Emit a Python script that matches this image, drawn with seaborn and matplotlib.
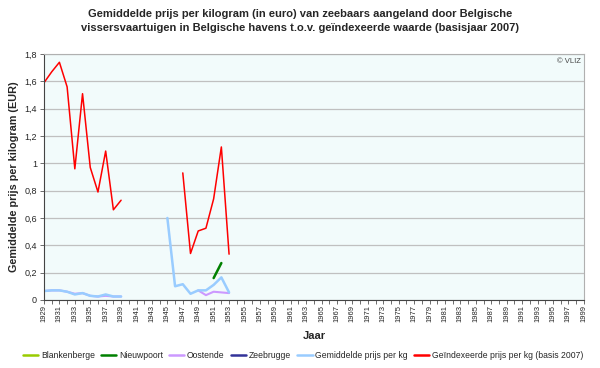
import numpy as np
import pandas as pd
import matplotlib
matplotlib.use("Agg")
import matplotlib.pyplot as plt
from matplotlib.lines import Line2D
from matplotlib.ticker import MultipleLocator, FuncFormatter
import seaborn as sns

# jaren 1929 - 1999
years = list(range(1929, 2000))

# gemiddelde prijs per kg (EUR)
gem_years = [1929, 1930, 1931, 1932, 1933, 1934, 1935, 1936, 1937, 1938, 1939,
             1945, 1946, 1947, 1948, 1949, 1950, 1951, 1952, 1953]
gem_vals = [0.065, 0.07, 0.07, 0.06, 0.04, 0.05, 0.03, 0.025, 0.04, 0.025, 0.025,
            0.60, 0.10, 0.115, 0.045, 0.07, 0.07, 0.11, 0.165, 0.055]

# geindexeerde prijs per kg (basis 2007)
idx_years = [1929, 1930, 1931, 1932, 1933, 1934, 1935, 1936, 1937, 1938, 1939,
             1947, 1948, 1949, 1950, 1951, 1952, 1953]
idx_vals = [1.59, 1.67, 1.74, 1.56, 0.96, 1.51, 0.97, 0.79, 1.09, 0.66, 0.73,
            0.93, 0.34, 0.505, 0.525, 0.74, 1.12, 0.335]

# Oostende
oos_years = [1929, 1930, 1931, 1932, 1933, 1934, 1935, 1936, 1937, 1938, 1939,
             1949, 1950, 1951, 1952, 1953]
oos_vals = [0.065, 0.07, 0.07, 0.06, 0.045, 0.05, 0.03, 0.025, 0.03, 0.025, 0.025,
            0.07, 0.035, 0.06, 0.055, 0.05]

# Nieuwpoort
nwp_years = [1951, 1952]
nwp_vals = [0.16, 0.27]

# Blankenberge / Zeebrugge: geen waarden
blk_years, blk_vals = [], []
zee_years, zee_vals = [], []

series = [
    ("Blankenberge", blk_years, blk_vals, "#99cc00", 1.5),
    ("Nieuwpoort", nwp_years, nwp_vals, "#008000", 1.8),
    ("Oostende", oos_years, oos_vals, "#cc99ff", 1.5),
    ("Zeebrugge", zee_years, zee_vals, "#333399", 1.5),
    ("Gemiddelde prijs per kg", gem_years, gem_vals, "#99ccff", 1.8),
    ("Geïndexeerde prijs per kg (basis 2007)", idx_years, idx_vals, "#ff0000", 1.1),
]

sns.set_style("white")
plt.rcParams["font.family"] = ["Liberation Sans", "DejaVu Sans"]

fig = plt.figure(figsize=(6, 3.68), dpi=100)
ax = fig.add_axes([0.0733, 0.185, 0.8997, 0.668])
ax.set_facecolor("#f2fbfb")


def segments(xs, ys):
    # split into runs of consecutive years so gaps stay open
    out, cur_x, cur_y = [], [], []
    for x, y in zip(xs, ys):
        if cur_x and x != cur_x[-1] + 1:
            out.append((cur_x, cur_y))
            cur_x, cur_y = [], []
        cur_x.append(x)
        cur_y.append(y)
    if cur_x:
        out.append((cur_x, cur_y))
    return out


handles = []
for name, xs, ys, col, lw in series:
    for sx, sy in segments(xs, ys):
        df = pd.DataFrame({"jaar": sx, "prijs": sy})
        sns.lineplot(data=df, x="jaar", y="prijs", ax=ax, color=col, lw=lw)
    handles.append(Line2D([], [], color=col, lw=1.8, label=name))

ax.set_xlim(1929, 1999)
ax.set_ylim(0, 1.8)
ax.yaxis.set_major_locator(MultipleLocator(0.2))
ax.yaxis.set_major_formatter(FuncFormatter(
    lambda v, p: "0" if abs(v) < 1e-9 else ("%g" % round(v, 1)).replace(".", ",")))
ax.set_xticks(years[::2])
ax.set_xticklabels([str(y) for y in years[::2]], rotation=90)
ax.set_xticks(years, minor=True)
ax.tick_params(axis="x", which="both", direction="out", length=3, width=0.6,
               color="#555555", labelsize=5.5, pad=1, bottom=True)
ax.tick_params(axis="y", direction="out", length=3, width=0.6, color="#555555",
               labelsize=6.5, pad=2, left=True)
ax.grid(axis="y", color="#c0c0c0", lw=0.9)
ax.set_axisbelow(True)
for side in ["top", "right"]:
    ax.spines[side].set_visible(True)
    ax.spines[side].set_color("#b0b0b0")
    ax.spines[side].set_linewidth(0.8)
for side in ["left", "bottom"]:
    ax.spines[side].set_color("#444444")
    ax.spines[side].set_linewidth(0.8)

ax.set_xlabel("Jaar", fontsize=8, fontweight="bold", labelpad=6)
ax.set_ylabel("Gemiddelde prijs per kilogram (EUR)", fontsize=7.8,
              fontweight="bold", labelpad=4)
ax.text(0.995, 0.985, "© VLIZ", transform=ax.transAxes, ha="right", va="top",
        fontsize=5.5, color="#444444")

fig.text(0.5, 0.975,
         "Gemiddelde prijs per kilogram (in euro) van zeebaars aangeland door Belgische\n"
         "vissersvaartuigen in Belgische havens t.o.v. geïndexeerde waarde (basisjaar 2007)",
         ha="center", va="top", fontsize=8, fontweight="bold", linespacing=1.5)

fig.legend(handles=handles, loc="center", bbox_to_anchor=(0.505, 0.035), ncol=6,
           frameon=False, fontsize=6.2, handlelength=1.8, handletextpad=0.3,
           columnspacing=0.7)

fig.savefig("out.png", dpi=100)
